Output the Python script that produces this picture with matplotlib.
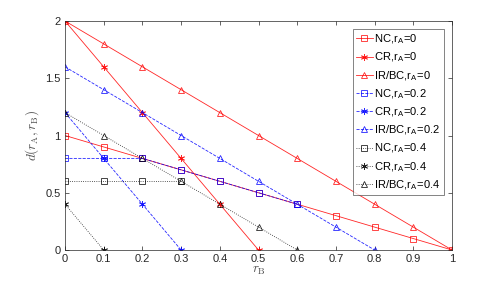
import matplotlib
matplotlib.use('Agg')
import matplotlib.pyplot as plt
import numpy as np

plt.rcParams['font.family'] = ['Liberation Sans', 'DejaVu Sans']
plt.rcParams['mathtext.fontset'] = 'cm'

# r_A = 0
x_nc0 = [0, 0.1, 0.2, 0.3, 0.4, 0.5, 0.6, 0.7, 0.8, 0.9, 1.0]
y_nc0 = [1.0, 0.9, 0.8, 0.7, 0.6, 0.5, 0.4, 0.3, 0.2, 0.1, 0.0]
x_cr0 = [0, 0.1, 0.2, 0.3, 0.4, 0.5]
y_cr0 = [2.0, 1.6, 1.2, 0.8, 0.4, 0.0]
x_ir0 = [0, 0.1, 0.2, 0.3, 0.4, 0.5, 0.6, 0.7, 0.8, 0.9, 1.0]
y_ir0 = [2.0, 1.8, 1.6, 1.4, 1.2, 1.0, 0.8, 0.6, 0.4, 0.2, 0.0]

# r_A = 0.2
x_nc2 = [0, 0.1, 0.2, 0.3, 0.4, 0.5, 0.6]
y_nc2 = [0.8, 0.8, 0.8, 0.7, 0.6, 0.5, 0.4]
x_cr2 = [0, 0.1, 0.2, 0.3]
y_cr2 = [1.2, 0.8, 0.4, 0.0]
x_ir2 = [0, 0.1, 0.2, 0.3, 0.4, 0.5, 0.6, 0.7, 0.8]
y_ir2 = [1.6, 1.4, 1.2, 1.0, 0.8, 0.6, 0.4, 0.2, 0.0]

# r_A = 0.4
x_nc4 = [0, 0.1, 0.2, 0.3]
y_nc4 = [0.6, 0.6, 0.6, 0.6]
x_cr4 = [0, 0.1]
y_cr4 = [0.4, 0.0]
x_ir4 = [0, 0.1, 0.2, 0.3, 0.4, 0.5, 0.6]
y_ir4 = [1.2, 1.0, 0.8, 0.6, 0.4, 0.2, 0.0]

series = [
    (x_nc0, y_nc0, 'NC', '0', 'red', '-', 's'),
    (x_cr0, y_cr0, 'CR', '0', 'red', '-', (6, 2, 0)),
    (x_ir0, y_ir0, 'IR/BC', '0', 'red', '-', '^'),
    (x_nc2, y_nc2, 'NC', '0.2', 'blue', '--', 's'),
    (x_cr2, y_cr2, 'CR', '0.2', 'blue', '--', (6, 2, 0)),
    (x_ir2, y_ir2, 'IR/BC', '0.2', 'blue', '--', '^'),
    (x_nc4, y_nc4, 'NC', '0.4', 'black', ':', 's'),
    (x_cr4, y_cr4, 'CR', '0.4', 'black', ':', (6, 2, 0)),
    (x_ir4, y_ir4, 'IR/BC', '0.4', 'black', ':', '^'),
]

fig = plt.figure(figsize=(5, 2.82), dpi=100)
ax = fig.add_axes([65 / 500, 1 - 250 / 282, (452 - 65) / 500, (250 - 21) / 282])

for x, y, name, ra, col, ls, mk in series:
    ms = 4 if mk == 's' else 5
    ax.plot(x, y, color=col, linestyle=ls, marker=mk, markersize=ms,
            markerfacecolor='none', markeredgecolor=col, linewidth=0.6,
            markeredgewidth=0.6, alpha=0.85,
            label=name + ',r$_\\mathregular{A}$=' + ra)

ax.set_xlim(0, 1)
ax.set_ylim(0, 2)
ax.set_xticks(np.arange(0, 1.01, 0.1))
ax.set_xticklabels(['0', '0.1', '0.2', '0.3', '0.4', '0.5', '0.6', '0.7', '0.8', '0.9', '1'])
ax.set_yticks([0, 0.5, 1, 1.5, 2])
ax.set_yticklabels(['0', '0.5', '1', '1.5', '2'])
ax.tick_params(direction='in', top=True, right=True, length=3, width=0.5,
               labelsize=8, colors='#262626', pad=3)
for s in ax.spines.values():
    s.set_color('#262626')
    s.set_linewidth(0.5)

ax.set_xlabel(r'$r_\mathrm{B}$', fontsize=9.5, color='#505050', labelpad=0)
ax.set_ylabel(r'$d(r_\mathrm{A},r_\mathrm{B})$', fontsize=9.5, color='#505050', labelpad=3)

leg = ax.legend(loc='upper right', bbox_to_anchor=(444 / 500, 1 - 29 / 282),
                bbox_transform=fig.transFigure, fontsize=8, frameon=True,
                fancybox=False, edgecolor='#262626', handlelength=1.5,
                handletextpad=0.15, borderpad=0.3, borderaxespad=0,
                labelspacing=0.4)
leg.get_frame().set_linewidth(0.5)

fig.savefig('out.png', dpi=100)
